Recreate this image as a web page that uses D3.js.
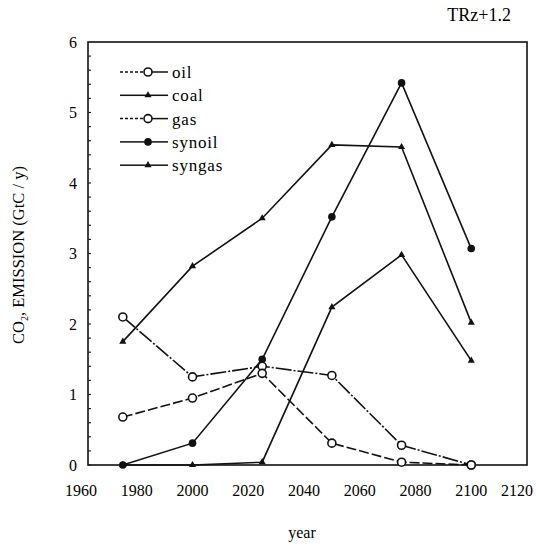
<!DOCTYPE html>
<html>
<head>
<meta charset="utf-8">
<script src="https://cdn.jsdelivr.net/npm/d3@7"></script>
<style>
  body { margin: 0; background: #fff; }
  svg { display: block; font-family: "Liberation Serif", "DejaVu Serif", serif; }
</style>
</head>
<body>
<svg id="chart"></svg>
<script>
// data
const years = [1975, 2000, 2025, 2050, 2075, 2100];
const oil = [2.1, 1.25, 1.4, 1.27, 0.28, 0];
const coal = [1.75, 2.82, 3.5, 4.54, 4.51, 2.02];
const gas = [0.68, 0.95, 1.3, 0.31, 0.04, 0];
const synoil = [0, 0.31, 1.5, 3.52, 5.42, 3.07];
const syngas = [0, 0, 0.04, 2.24, 2.98, 1.48];
const xTicks = [1960, 1980, 2000, 2020, 2040, 2060, 2080, 2100, 2120];
const yTicks = [0, 1, 2, 3, 4, 5, 6];
const seriesNames = ['oil', 'coal', 'gas', 'synoil', 'syngas'];

function draw() {
    var width = 536, height = 546;
    var left = 88, right = 527, top = 42, bottom = 465;

    const svg = d3.select('#chart')
        .attr('width', width)
        .attr('height', height);

    var xs = d3.scaleLinear().domain([1960, 2120]).range([81, right]);
    var ys = d3.scaleLinear().domain([0, 6]).range([bottom, top]);

    var series = [
        {name: 'oil', values: oil, marker: 'circle', dash: '16,2,2,2'},
        {name: 'coal', values: coal, marker: 'triangle', dash: null},
        {name: 'gas', values: gas, marker: 'circle', dash: '10,3'},
        {name: 'synoil', values: synoil, marker: 'dot', dash: null},
        {name: 'syngas', values: syngas, marker: 'triangle', dash: null}
    ];

    // frame
    svg.append('rect')
        .attr('x', left).attr('y', top)
        .attr('width', right - left).attr('height', bottom - top)
        .attr('fill', 'none').attr('stroke', '#111').attr('stroke-width', 1.6);

    // small inner ticks on the left axis
    svg.append('g').selectAll('line')
        .data(d3.range(0, 30).map(i => i * 0.2))
        .enter().append('line')
        .attr('x1', left).attr('x2', left + 3)
        .attr('y1', d => ys(d)).attr('y2', d => ys(d))
        .attr('stroke', '#222').attr('stroke-width', 1.2);

    svg.append('g').selectAll('text')
        .data(yTicks)
        .enter().append('text')
        .attr('x', 77)
        .attr('y', d => ys(d))
        .attr('dy', '0.35em')
        .attr('text-anchor', 'end')
        .attr('font-size', 16)
        .text(d => d);

    svg.append('g').selectAll('text')
        .data(xTicks)
        .enter().append('text')
        .attr('x', d => Math.min(xs(d), width - 19))
        .attr('y', 496)
        .attr('text-anchor', 'middle')
        .attr('font-size', 16)
        .text(d => d);

    svg.append('text')
        .attr('x', 302).attr('y', 538)
        .attr('text-anchor', 'middle')
        .attr('font-size', 16)
        .text('year');

    const yl = svg.append('text')
        .attr('transform', 'translate(24,255) rotate(-90)')
        .attr('text-anchor', 'middle')
        .attr('font-size', 16.5);
    yl.append('tspan').text('CO');
    yl.append('tspan').attr('font-size', 10).attr('dy', 4).text('2');
    yl.append('tspan').attr('dy', -4).text(', EMISSION (GtC / y)');

    svg.append('text')
        .attr('x', 511).attr('y', 21)
        .attr('text-anchor', 'end')
        .attr('font-size', 18)
        .text('TRz+1.2');

    var line = d3.line().x(d => xs(d.year)).y(d => ys(d.value));

    function addMarker(g, type, x, y) {
        if (type === 'circle') {
            g.append('circle').attr('cx', x).attr('cy', y).attr('r', 4)
                .attr('fill', '#fff').attr('stroke', '#111').attr('stroke-width', 1.6);
        } else if (type === 'dot') {
            g.append('circle').attr('cx', x).attr('cy', y).attr('r', 3.8)
                .attr('fill', '#111');
        } else {
            g.append('path').attr('d', d3.symbol().type(d3.symbolTriangle).size(22)())
                .attr('transform', `translate(${x},${y})`)
                .attr('fill', '#111');
        }
    }

    series.forEach(s => {
        var pts = years.map((yr, i) => ({year: yr, value: s.values[i]}));
        const g = svg.append('g').attr('class', 'series ' + s.name);
        g.append('path')
            .datum(pts)
            .attr('d', line)
            .attr('fill', 'none')
            .attr('stroke', '#111')
            .attr('stroke-width', 1.6)
            .attr('stroke-dasharray', s.dash);
        pts.forEach(p => addMarker(g, s.marker, xs(p.year), ys(p.value)));
    });

    // legend
    const legend = svg.selectAll('.legend')
        .data(series)
        .enter().append('g')
        .attr('class', 'legend')
        .attr('transform', (d, i) => `translate(120,${72 + i * 23.3})`);

    legend.append('line')
        .attr('x1', 0).attr('x2', 26).attr('y1', 0).attr('y2', 0)
        .attr('stroke', '#111').attr('stroke-width', 1.5)
        .attr('stroke-dasharray', d => d.dash ? '3,2' : null);
    legend.append('line')
        .attr('x1', 26).attr('x2', 48).attr('y1', 0).attr('y2', 0)
        .attr('stroke', '#111').attr('stroke-width', 1.5);
    legend.each(function(d) { addMarker(d3.select(this), d.marker, 28, 0); });
    legend.append('text')
        .attr('x', 52)
        .attr('y', 0)
        .attr('dy', '0.35em')
        .attr('font-size', 17)
        .attr('letter-spacing', 0.8)
        .text(d => d.name);
}

draw();
</script>
</body>
</html>
